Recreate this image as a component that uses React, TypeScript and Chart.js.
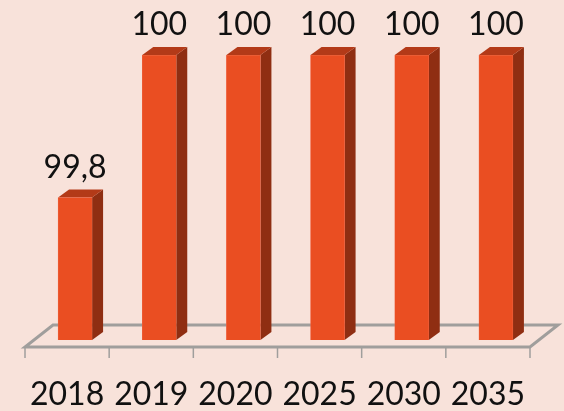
import React, { useEffect, useRef } from "react";
import { Chart, registerables } from "chart.js";

Chart.register(...registerables);

const categories = ["2018", "2019", "2020", "2025", "2030", "2035"];
const values = [99.8, 100, 100, 100, 100, 100];
const valueLabels = ["99,8", "100", "100", "100", "100", "100"];
const axisMin = 99.6;
const axisMax = 100;

const FONT = "Lato";
const DX = 11;
const DY = 8;

const bar3d = {
  id: "bar3d",
  beforeDatasetsDraw(chart: any) {
    const { ctx } = chart;
    const x = chart.scales.x;
    const bottom = chart.chartArea.bottom;
    const step = (x.right - x.left) / categories.length;
    ctx.save();
    ctx.strokeStyle = "#a09e9c";
    ctx.lineWidth = 3;
    ctx.lineJoin = "miter";
    ctx.beginPath();
    ctx.moveTo(x.left - 8, bottom + 7);
    ctx.lineTo(x.right - 8, bottom + 7);
    ctx.lineTo(x.right + 20, bottom - 15);
    ctx.lineTo(x.left + 20, bottom - 15);
    ctx.closePath();
    ctx.stroke();
    ctx.lineWidth = 1.5;
    for (let i = 0; i <= categories.length; i++) {
      const px = x.left - 8 + i * step;
      ctx.beginPath();
      ctx.moveTo(px, bottom + 7);
      ctx.lineTo(px, bottom + 18);
      ctx.stroke();
    }
    const meta = chart.getDatasetMeta(0);
    meta.data.forEach((b: any) => {
      const l = b.x - b.width / 2;
      const r = b.x + b.width / 2;
      ctx.fillStyle = "#8f2e12";
      ctx.beginPath();
      ctx.moveTo(r, b.y);
      ctx.lineTo(r + DX, b.y - DY);
      ctx.lineTo(r + DX, bottom - DY);
      ctx.lineTo(r, bottom);
      ctx.closePath();
      ctx.fill();
      ctx.fillStyle = "#b33a18";
      ctx.beginPath();
      ctx.moveTo(l, b.y);
      ctx.lineTo(l + DX, b.y - DY);
      ctx.lineTo(r + DX, b.y - DY);
      ctx.lineTo(r, b.y);
      ctx.closePath();
      ctx.fill();
    });
    ctx.restore();
  },
  afterDatasetsDraw(chart: any) {
    const { ctx } = chart;
    const meta = chart.getDatasetMeta(0);
    ctx.save();
    ctx.fillStyle = "#111111";
    ctx.font = `32px ${FONT}`;
    ctx.textAlign = "center";
    ctx.textBaseline = "alphabetic";
    meta.data.forEach((b: any, i: number) => {
      ctx.fillText(valueLabels[i], b.x, b.y - 20);
    });
    ctx.restore();
  },
};

export default function App() {
  const ref = useRef<HTMLCanvasElement | null>(null);
  useEffect(() => {
    const chart = new Chart(ref.current as HTMLCanvasElement, {
      type: "bar",
      data: {
        labels: categories,
        datasets: [
          {
            data: values,
            base: axisMin,
            backgroundColor: "#ea4e22",
            borderColor: "#f0694a",
            borderWidth: 0.5,
            barThickness: 34,
          },
        ],
      },
      options: {
        responsive: false,
        animation: false,
        layout: { padding: { left: 33, right: 26, top: 55, bottom: 0 } },
        plugins: { legend: { display: false }, tooltip: { enabled: false } },
        scales: {
          y: { display: false, min: axisMin, max: axisMax },
          x: {
            grid: { display: false, drawTicks: false },
            border: { display: false },
            afterFit(scale: any) {
              scale.height = 71;
              scale.paddingLeft = 0;
              scale.paddingRight = 0;
            },
            ticks: {
              autoSkip: false,
              maxRotation: 0,
              padding: 35,
              labelOffset: -8,
              color: "#111111",
              font: { family: FONT, size: 32 },
            },
          },
        },
      },
      plugins: [bar3d],
    });
    return () => chart.destroy();
  }, []);
  return (
    <div style={{ position: "fixed", left: 0, top: 0, width: 564, height: 411, background: "#f8e2da" }}>
      <canvas ref={ref} width={564} height={411} style={{ display: "block" }} />
    </div>
  );
}
